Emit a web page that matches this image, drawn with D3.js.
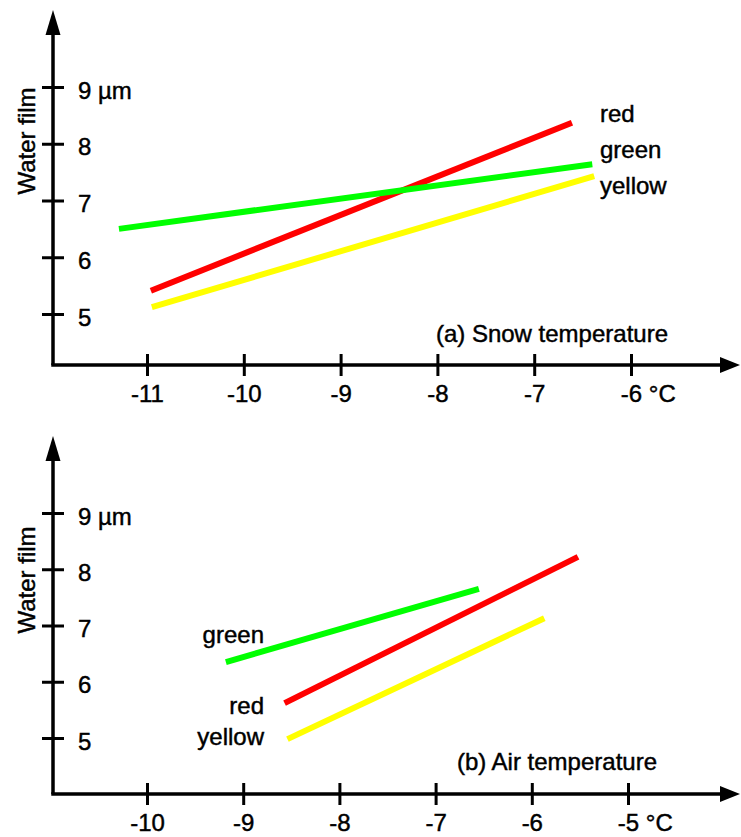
<!DOCTYPE html>
<html>
<head>
<script src="https://d3js.org/d3.v7.min.js"></script>
<style>
  body { margin: 0; background: white; }
  svg { display: block; font-family: 'Liberation Sans', Arial, sans-serif; }
  svg text { font-size: 24px; fill: black; stroke: black; stroke-width: 0.45px; }
</style>
</head>
<body>
<div id="chart"></div>
<script>
// panel (a): snow temperature
const snowTicksX = [-11, -10, -9, -8, -7, -6];
const snowDomainX = [-11, -6];
const snowSeries = ["red", "green", "yellow"];
const snowX = [[-10.96, -6.61], [-11.29, -6.40], [-10.95, -6.38]];
const snowY = [[5.41, 8.37], [6.50, 7.64], [5.12, 7.43]];

// panel (b): air temperature
const airTicksX = [-10, -9, -8, -7, -6, -5];
const airDomainX = [-10, -5];
const airSeries = ["green", "red", "yellow"];
const airX = [[-9.18, -6.55], [-8.57, -5.52], [-8.54, -5.87]];
const airY = [[6.35, 7.65], [5.62, 8.22], [4.98, 7.13]];

const ticksY = [5, 6, 7, 8, 9];
const colors = { red: "#ff0000", green: "#00ff00", yellow: "#ffff00" };

const w = 741, h = 837;
const svg = d3.select("#chart").append("svg").attr("width", w).attr("height", h);

function panel(top, o) {
  const g = svg.append("g").attr("transform", `translate(0,${top})`);
  const x = d3.scaleLinear().domain(o.domainX).range([147, o.xEnd]);
  const y = d3.scaleLinear().domain([5, 9]).range([o.y5, o.y9]);
  const x0 = 53, yAxis = o.axisY;

  // axis lines + arrow heads
  g.append("line").attr("x1", x0).attr("x2", x0).attr("y1", yAxis).attr("y2", 30)
    .attr("stroke", "black").attr("stroke-width", 3.5);
  g.append("line").attr("x1", x0 - 1.75).attr("x2", 725).attr("y1", yAxis).attr("y2", yAxis)
    .attr("stroke", "black").attr("stroke-width", 3.5);
  g.append("path").attr("d", `M${x0 - 7.5},35 L${x0},10 L${x0 + 7.5},35 Z`).attr("fill", "black");
  g.append("path").attr("d", `M720,${yAxis - 8} L740,${yAxis} L720,${yAxis + 8} Z`).attr("fill", "black");

  // y ticks
  const ay = g.append("g").attr("transform", `translate(${x0},0)`)
    .call(d3.axisRight(y).tickValues(ticksY).tickSize(11).tickPadding(14)
      .tickFormat(d => d === 9 ? "9 µm" : String(d)));
  ay.select(".domain").remove();
  ay.selectAll(".tick line").attr("x1", -11).attr("stroke", "black").attr("stroke-width", 3);
  ay.selectAll(".tick text").attr("dy", 11);

  // x ticks
  const ax = g.append("g").attr("transform", `translate(0,${yAxis})`)
    .call(d3.axisBottom(x).tickValues(o.ticksX).tickSize(11).tickFormat(d => String(d)));
  ax.select(".domain").remove();
  ax.selectAll(".tick line").attr("y1", -11).attr("stroke", "black").attr("stroke-width", 3);
  ax.selectAll(".tick text").attr("y", 37).attr("dy", 0);
  const last = ax.selectAll(".tick text").filter(d => d === o.ticksX[o.ticksX.length - 1]);
  const lw = last.node().getComputedTextLength();
  last.attr("text-anchor", "start").attr("x", -lw / 2).text(d => d + " °C");

  // y label
  g.append("text").attr("transform", `translate(35,${o.labelY}) rotate(-90)`)
    .attr("text-anchor", "middle").text("Water film");

  // regression lines
  o.series.forEach((s, i) => {
    g.append("line")
      .attr("x1", x(o.xs[i][0])).attr("x2", x(o.xs[i][1]))
      .attr("y1", y(o.ys[i][0])).attr("y2", y(o.ys[i][1]))
      .attr("stroke", colors[s]).attr("stroke-width", 6);
  });

  // series labels
  o.series.forEach((s, i) => {
    g.append("text").attr("x", o.labels[i][0]).attr("y", o.labels[i][1])
      .attr("text-anchor", o.anchor).text(s);
  });

  g.append("text").attr("x", o.title[0]).attr("y", o.title[1])
    .attr("text-anchor", "end").text(o.titleText);
}

panel(0, {
  domainX: snowDomainX, ticksX: snowTicksX, xEnd: 631, y5: 314, y9: 87, axisY: 365,
  series: snowSeries, xs: snowX, ys: snowY, labelY: 141,
  labels: [[600, 122], [600, 158], [600, 194]], anchor: "start",
  title: [668, 342], titleText: "(a) Snow temperature"
});

panel(426, {
  domainX: airDomainX, ticksX: airTicksX, xEnd: 628, y5: 312, y9: 87, axisY: 368,
  series: airSeries, xs: airX, ys: airY, labelY: 154,
  labels: [[264, 217], [264, 288], [264, 319]], anchor: "end",
  title: [657, 344], titleText: "(b) Air temperature"
});
</script>
</body>
</html>
